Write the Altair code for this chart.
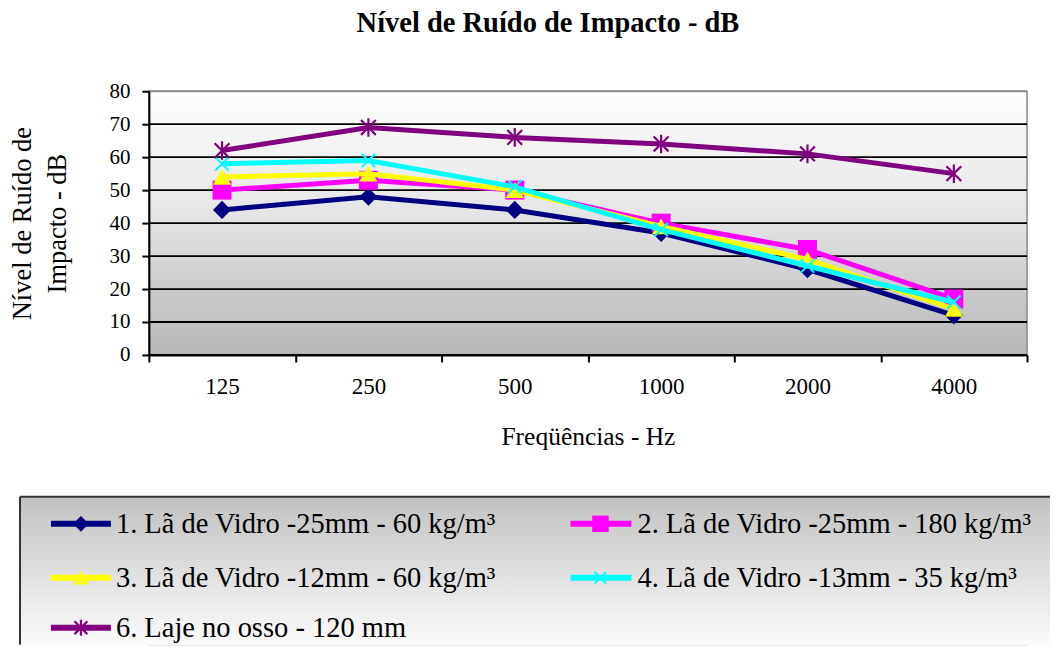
import altair as alt
import pandas as pd

# ---------------- data ----------------
freqs = ["125", "250", "500", "1000", "2000", "4000"]
s1 = [44, 48, 44, 37, 26, 12]
s2 = [50, 53, 50, 40, 32, 17]
s3 = [54, 55, 50, 39, 29, 14]
s4 = [58, 59, 51, 38, 27, 16]
s6 = [62, 69, 66, 64, 61, 55]
names = [
    "1. Lã de Vidro -25mm - 60 kg/m³",
    "2. Lã de Vidro -25mm - 180 kg/m³",
    "3. Lã de Vidro -12mm - 60 kg/m³",
    "4. Lã de Vidro -13mm - 35 kg/m³",
    "6. Laje no osso - 120 mm",
]
yticks = [0, 10, 20, 30, 40, 50, 60, 70, 80]

series_values = [s1, s2, s3, s4, s6]

FONT = "Liberation Serif"
X_PATH = "M-1,-1L1,1M1,-1L-1,1"
STAR_PATH = "M-1,-1L1,1M1,-1L-1,1M0,-1.25L0,1.25"
styles = [
    dict(color="#000080", shape="diamond", size=330, filled=True, sw=0),
    dict(color="#ff00ff", shape="square", size=360, filled=True, sw=0),
    dict(color="#ffff00", shape="triangle-up", size=330, filled=True, sw=0),
    dict(color="#00ffff", shape=X_PATH, size=180, filled=False, sw=2),
    dict(color="#800080", shape=STAR_PATH, size=220, filled=False, sw=2.2),
]

W, H = 879, 264
PLOT_LEFT = 149  # page x of the plot's left edge (legend layout reference)

rows = []
for i, (n, vals) in enumerate(zip(names, series_values)):
    for f, v in zip(freqs, vals):
        rows.append({"serie": n, "idx": i, "freq": f, "value": v})
df = pd.DataFrame(rows)

x_enc = alt.X(
    "freq:N", sort=freqs,
    scale=alt.Scale(paddingInner=0, paddingOuter=0),
    axis=alt.Axis(
        title="Freqüências - Hz", labelAngle=0, tickBand="extent", grid=False,
        labelFontSize=23, titleFontSize=25.5, labelFont=FONT, titleFont=FONT,
        titleFontWeight="normal", labelColor="#000", titleColor="#000",
        domainColor="#000", domainWidth=2, tickColor="#000", tickWidth=2,
        tickSize=7, labelPadding=14, titlePadding=26, zindex=1,
    ),
)
y_enc = alt.Y(
    "value:Q",
    scale=alt.Scale(domain=[0, 80], nice=False, zero=True),
    axis=alt.Axis(
        title=["Nível de Ruído de", "Impacto - dB"], values=yticks, grid=False,
        labelOverlap=False,
        labelFontSize=21, titleFontSize=26.5, labelFont=FONT, titleFont=FONT,
        titleFontWeight="normal", labelColor="#000", titleColor="#000",
        domainColor="#000", domainWidth=2, tickColor="#000", tickWidth=2,
        tickSize=7, labelPadding=12, titlePadding=37, titleLineHeight=35,
        zindex=1,
    ),
)

plot_grad = alt.Gradient(
    gradient="linear", x1=0, x2=0, y1=0, y2=1,
    stops=[alt.GradientStop(color="#fefefe", offset=0),
           alt.GradientStop(color="#e6e6e6", offset=0.45),
           alt.GradientStop(color="#b6b6b6", offset=1)],
)
bg = alt.Chart(pd.DataFrame({"a": [0]})).mark_rect(
    fill=plot_grad, stroke="#8c8c8c", strokeWidth=1.5
).encode(x=alt.value(0), x2=alt.value(W), y=alt.value(0), y2=alt.value(H))

grid_df = pd.DataFrame({"value": yticks})
grid = alt.Chart(grid_df).mark_rule(strokeWidth=1.8).encode(
    y=y_enc,
    color=alt.condition("datum.value == 80", alt.value("#8c8c8c"), alt.value("#000000")),
)

layers = [bg, grid]
for i, st in enumerate(styles):
    sub = alt.Chart(df).transform_filter(f"datum.idx == {i}")
    line = sub.mark_line(color=st["color"], strokeWidth=5).encode(x=x_enc, y=y_enc)
    pt = sub.mark_point(
        shape=st["shape"], size=st["size"], filled=st["filled"], opacity=1,
        color=st["color"], strokeWidth=st["sw"] if not st["filled"] else 0,
    ).encode(x=x_enc, y=y_enc)
    layers += [line, pt]

main = alt.layer(*layers).properties(
    width=W, height=H,
    title=alt.TitleParams(
        "Nível de Ruído de Impacto - dB", font=FONT, fontSize=28.5,
        fontWeight="bold", color="#000", anchor="middle", frame="group",
        offset=43, dx=-40,
    ),
)

# ---------------- legend panel (page-x coordinates) ----------------
LH = 148
COLS = [(51, 111, 81, 116), (571, 632, 601, 638)]
ROW_Y = [27, 81, 131]
leg_rows = []
for i, n in enumerate(names):
    c = COLS[i % 2]
    leg_rows.append({"serie": n, "idx": i, "x1": c[0], "x2": c[1], "mx": c[2],
                     "tx": c[3], "ry": ROW_Y[i // 2]})
leg_df = pd.DataFrame(leg_rows)

lx = alt.Scale(domain=[PLOT_LEFT, PLOT_LEFT + W], nice=False, zero=False)
ly = alt.Scale(domain=[0, LH], nice=False, zero=False, reverse=True)

leg_grad = alt.Gradient(
    gradient="linear", x1=0, x2=0, y1=0, y2=1,
    stops=[alt.GradientStop(color="#c2c2c2", offset=0),
           alt.GradientStop(color="#fbfbfb", offset=1)],
)
BOX_L, BOX_R = 20, 1051
box_df = pd.DataFrame({"bx1": [BOX_L], "bx2": [BOX_R], "by1": [0], "by2": [LH]})
box = alt.Chart(box_df).mark_rect(fill=leg_grad).encode(
    x=alt.X("bx1:Q", scale=lx, axis=None), x2="bx2:Q",
    y=alt.Y("by1:Q", scale=ly, axis=None), y2="by2:Q",
)
box_top = alt.Chart(box_df).mark_rule(color="#333", strokeWidth=2).encode(
    x=alt.X("bx1:Q", scale=lx, axis=None), x2="bx2:Q",
    y=alt.Y("by1:Q", scale=ly, axis=None),
)
box_left = alt.Chart(box_df).mark_rule(color="#333", strokeWidth=2).encode(
    x=alt.X("bx1:Q", scale=lx, axis=None),
    y=alt.Y("by1:Q", scale=ly, axis=None), y2="by2:Q",
)
leg_layers = [box, box_top, box_left]
for i, st in enumerate(styles):
    sub = alt.Chart(leg_df).transform_filter(f"datum.idx == {i}")
    r = sub.mark_rule(color=st["color"], strokeWidth=6).encode(
        x=alt.X("x1:Q", scale=lx, axis=None), x2="x2:Q",
        y=alt.Y("ry:Q", scale=ly, axis=None),
    )
    p = sub.mark_point(
        shape=st["shape"], size=st["size"] * 0.75, filled=st["filled"], opacity=1,
        color=st["color"], strokeWidth=st["sw"] if not st["filled"] else 0,
    ).encode(
        x=alt.X("mx:Q", scale=lx, axis=None),
        y=alt.Y("ry:Q", scale=ly, axis=None),
    )
    leg_layers += [r, p]
txt = alt.Chart(leg_df).mark_text(
    font=FONT, fontSize=28.5, align="left", baseline="middle", color="#000"
).encode(
    x=alt.X("tx:Q", scale=lx, axis=None),
    y=alt.Y("ry:Q", scale=ly, axis=None),
    text="serie:N",
)
leg_layers.append(txt)
legend = alt.layer(*leg_layers).properties(width=W, height=LH)

chart = alt.vconcat(main, legend, spacing=44).properties(
    padding={"left": 1, "top": 0, "right": 0, "bottom": 0}
).configure_view(stroke=None).configure(background="white")

chart.save("out.html", embed_options={"renderer": "svg", "actions": False})
